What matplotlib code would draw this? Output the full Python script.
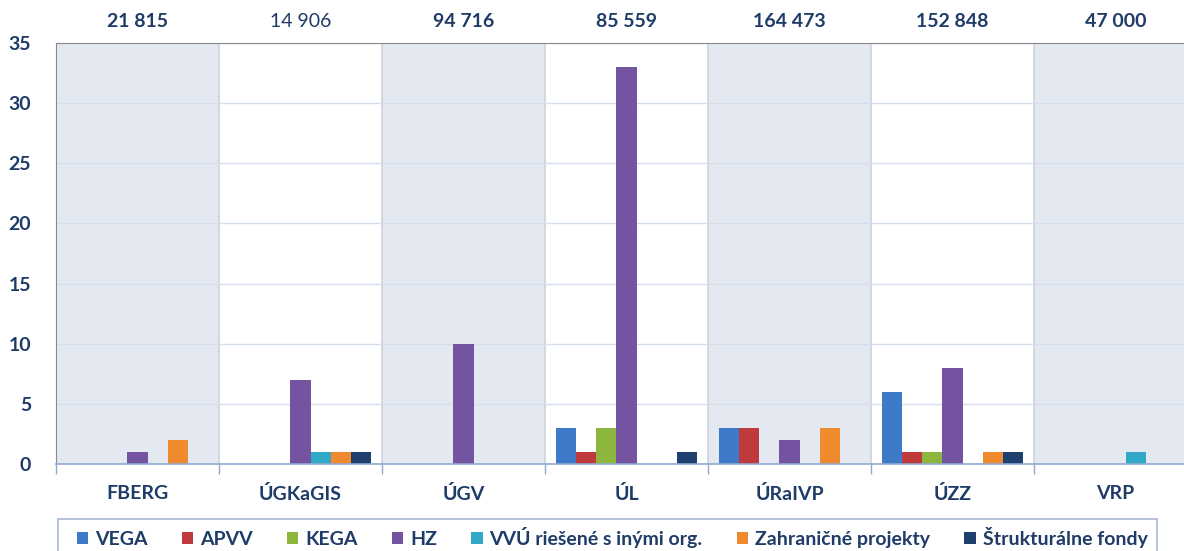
import matplotlib
matplotlib.use('Agg')
import matplotlib.pyplot as plt
import numpy as np
from matplotlib import rcParams
from matplotlib.patches import Rectangle
from matplotlib.transforms import blended_transform_factory

rcParams['font.family'] = ['Lato', 'DejaVu Sans']
rcParams['font.weight'] = 'bold'

# data
categories = ["FBERG", "ÚGKaGIS", "ÚGV", "ÚL", "ÚRaIVP", "ÚZZ", "VRP"]
totals = ["21 815", "14 906", "94 716", "85 559", "164 473", "152 848", "47 000"]
totals_bold = [True, False, True, True, True, True, True]

series = ["VEGA", "APVV", "KEGA", "HZ", "VVÚ riešené s inými org.",
          "Zahraničné projekty", "Štrukturálne fondy"]
vega = [0, 0, 0, 3, 3, 6, 0]
apvv = [0, 0, 0, 1, 3, 1, 0]
kega = [0, 0, 0, 3, 0, 1, 0]
hz = [1, 7, 10, 33, 2, 8, 0]
vvu = [0, 1, 0, 0, 0, 0, 1]
zahr = [2, 1, 0, 0, 3, 1, 0]
struk = [0, 1, 0, 1, 0, 1, 0]
values = [vega, apvv, kega, hz, vvu, zahr, struk]
colors = ['#3D7BC8', '#C0393C', '#8DB63E', '#7453A1', '#31A8C5', '#EF8A2F', '#1F3F6F']

navy = '#1F3B68'
fs = 14

fig = plt.figure(figsize=(11.84, 5.51), dpi=100)
ax = fig.add_axes([56 / 1184, 1 - 464 / 551, 1141 / 1184, 421 / 551])

x = np.arange(len(categories))
w = 0.123

# alternating background bands
for i in range(len(categories)):
    if i % 2 == 0:
        ax.axvspan(i - 0.5, i + 0.5, color='#E4E8F0', zorder=0.2, lw=0)
for b in np.arange(-0.5, len(categories), 1.0):
    ax.axvline(b, color='#CDD3DC', lw=1.2, zorder=0.3)

for k, (name, vals, c) in enumerate(zip(series, values, colors)):
    ax.bar(x + (k - 3) * w, vals, width=w, color=c, label=name, zorder=2)

ax.set_xlim(-0.5, len(categories) - 0.5)
ax.set_ylim(0, 35)
ax.set_yticks(range(0, 36, 5))
ax.yaxis.grid(True, color='#D5DFEC', lw=1)
ax.set_axisbelow(True)

ax.set_xticks(x)
ax.set_xticklabels(categories)
ax.set_xticks(np.arange(-0.5, len(categories), 1.0), minor=True)
ax.tick_params(axis='x', which='major', length=0, pad=15, labelsize=fs, labelcolor=navy)
ax.tick_params(axis='x', which='minor', length=7, color='#8FA9D1', width=1)
ax.tick_params(axis='y', length=0, pad=18, labelsize=fs, labelcolor=navy)

for s in ['top', 'left']:
    ax.spines[s].set_color('#8A8A8A')
ax.spines['right'].set_visible(False)
ax.spines['bottom'].set_color('#8FA9D1')
ax.spines['bottom'].set_linewidth(1.2)

trans = blended_transform_factory(ax.transData, ax.transAxes)
for i, (t, b) in enumerate(zip(totals, totals_bold)):
    ax.text(i, 1.05, t, transform=trans, ha='center', va='center',
            fontsize=fs, color=navy, fontweight='bold' if b else 'normal')

# legend (frame drawn separately, wider than the entries)
leg = fig.legend(loc='upper center', bbox_to_anchor=(612 / 1184, 1 - 521 / 551), ncol=7,
                 frameon=False, fontsize=fs, handlelength=0.6, borderaxespad=0,
                 handleheight=0.6, handletextpad=0.35, columnspacing=1.75,
                 borderpad=0.3, labelcolor=navy)
fig.patches.append(Rectangle((58 / 1184, -0.05), 1099 / 1184, 0.05 + 1 - 519 / 551,
                             transform=fig.transFigure, fill=False,
                             edgecolor='#A7B8D3', lw=1.2))

fig.savefig('out.png', dpi=100)
